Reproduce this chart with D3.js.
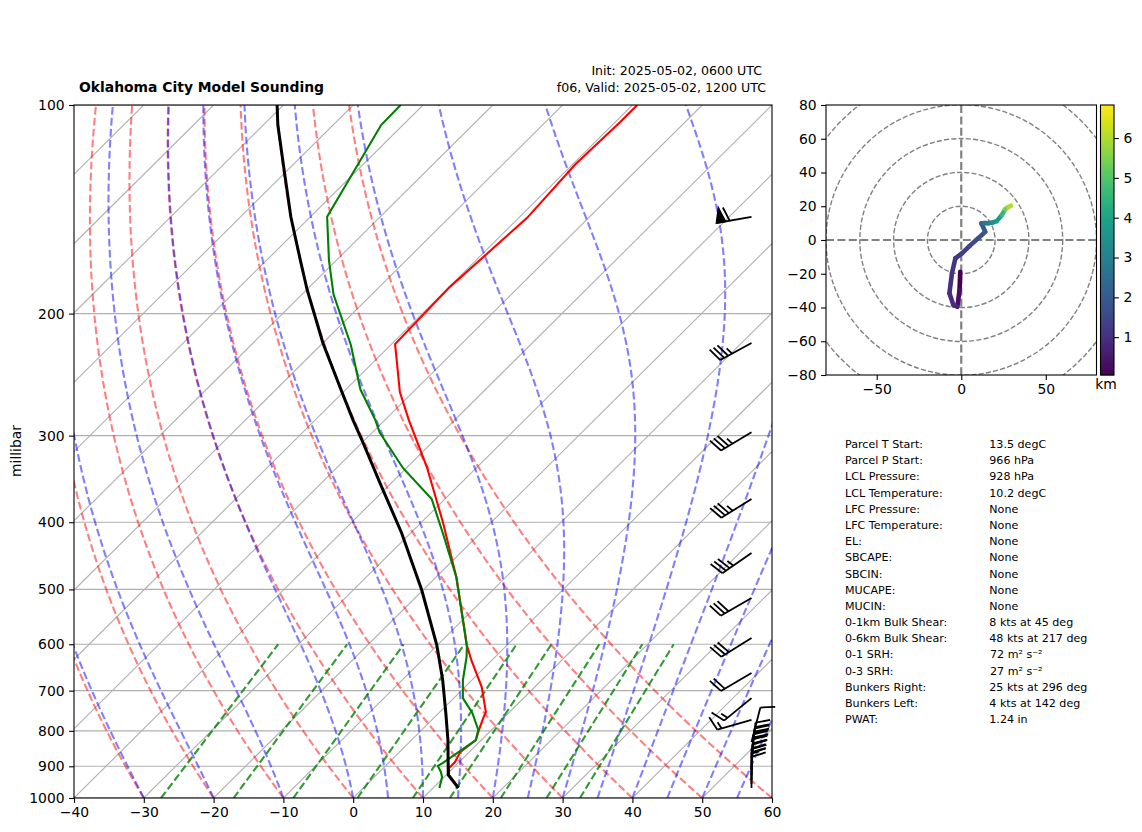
<!DOCTYPE html>
<html>
<head>
<meta charset="utf-8">
<script src="https://d3js.org/d3.v7.min.js"></script>
<style>
html,body{margin:0;padding:0;background:#fff;}
svg{display:block;}
text{font-family:"DejaVu Sans",sans-serif;fill:#000;}
</style>
</head>
<body>
<svg id="c" width="1142" height="832"></svg>
<script>
// ---- Sounding data ----
const tempP = [966,926.4,905,887.5,858.5,824.7,797.6,766.9,751.5,691.6,632.2,601.5,480,401,333,284.7,259.5,221.3,183,145.5,122,105.8,100];
const tempC = [13.6,10.4,9.4,9.4,8.7,9.2,8.2,7.1,6.6,2.4,-3.0,-5.8,-17.1,-26.8,-37.2,-46.6,-51.9,-59.5,-59.9,-58.8,-59.6,-59.3,-59.3];
const dewP = [967,932.6,917,899,890,824.7,797.6,753.9,717.6,675.8,626,605.5,578,480,414.6,370.3,334,296.6,284.7,257.4,222,187.6,167.4,145,106.9,100];
const dewC = [10.9,9.7,8.8,7.5,7.8,9.2,8.1,4.8,1.3,-1.3,-4.1,-5.5,-7.8,-17.1,-25.4,-31.9,-40.5,-49.0,-51.4,-57.9,-65.7,-75.5,-81.1,-87.6,-93.1,-93.2];
const parcelP = [967,926.4,824.7,753.9,675.8,601.5,501,414.6,351.2,307.4,284.7,260.4,220.5,184.9,167.4,145,125.4,106.9,100];
const parcelC = [13.6,10.3,5.2,1.0,-4.2,-10.1,-20.2,-31.3,-41.6,-49.8,-54.6,-60.0,-70.0,-79.9,-85.2,-92.8,-100.0,-107.9,-110.9];

// Wind barbs: pressure, u and v in knots
const barbP = [145,220.5,296.6,370.3,443,514.4,587.7,660,717.6,771.6,830,875.5,893,911,926,942,954.6,967];
const barbU = [59,30.7,30,29.7,28.8,26,25.4,17.2,11.6,14.4,-2.5,-3.4,-2.5,-1.5,-1,-0.5,0,0];
const barbV = [10.4,16.8,18,18.5,19.9,15,15.9,10.1,9.5,4.1,-9.7,-29.8,-30,-30,-25,-25,-20,-20];

// Hodograph: u, v, height (km)
const hodoU = [-0.6,-1,-2.3,-4.6,-7,-5.5,-3.5,0.4,5,10,14.2,11.9,14,16,18.5,21,24,26,28,29.4];
const hodoV = [-18.8,-29.6,-39.5,-38.6,-31.6,-19.7,-10.9,-7.9,-3.5,1,4.9,9.9,10,9.9,10.4,11.2,14.8,18.3,19.6,20.3];
const hodoZ = [0.05,0.3,0.7,0.9,1.0,1.1,1.2,1.3,1.5,1.7,2.0,2.3,2.7,3.0,3.4,3.8,4.6,5.4,6.0,6.6];
const hodoRings = [20,40,60,80,100];

// Background isopleths, degC at 1000 hPa / mixing ratio
const isotherms = d3.range(-140,61,10);
const dryT0 = [-40,-30,-20,-10,0,10,20,30,40,50,60];
const moistT0 = [-40,-30,-20,-10,0,5,10,15,20,25,30,35,40,45,50,55,60];
const mixW = [0.0004,0.001,0.002,0.004,0.007,0.01,0.016,0.024,0.032];

// Ticks
const pressureTicks = [100,200,300,400,500,600,700,800,900,1000];
const tempTicks = [-40,-30,-20,-10,0,10,20,30,40,50,60];
const hodoXTicks = [-50,0,50];
const hodoYTicks = [-80,-60,-40,-20,0,20,40,60,80];
const cbarTicks = [1,2,3,4,5,6];

// Text
const chartTitle = "Oklahoma City Model Sounding";
const initText = "Init: 2025-05-02, 0600 UTC";
const validText = "f06, Valid: 2025-05-02, 1200 UTC";
const tableLabels = ["Parcel T Start:","Parcel P Start:","LCL Pressure:","LCL Temperature:","LFC Pressure:","LFC Temperature:","EL:","SBCAPE:","SBCIN:","MUCAPE:","MUCIN:","0-1km Bulk Shear:","0-6km Bulk Shear:","0-1 SRH:","0-3 SRH:","Bunkers Right:","Bunkers Left:","PWAT:"];
const tableValues = ["13.5 degC","966 hPa","928 hPa","10.2 degC","None","None","None","None","None","None","None","8 kts at 45 deg","48 kts at 217 deg","72 m² s⁻²","27 m² s⁻²","25 kts at 296 deg","4 kts at 142 deg","1.24 in"];

// ---- Layout ----
const svg = d3.select("#c");
const L=74,R=772,T=105,B=798;
const x = d3.scaleLinear().domain([-40,60]).range([L,R]);
const y = d3.scaleLog().domain([1000,100]).range([B,T]);
const skew = p => 100*Math.log10(1000/p);
const px = (t,p) => x(t+skew(p));
const line = d3.line().x(d=>px(d[1],d[0])).y(d=>y(d[0]));
const presGrid = d3.range(0,61).map(i=>1000*Math.pow(10,-i/60));

svg.append("defs").append("clipPath").attr("id","skewClip").append("rect").attr("x",L).attr("y",T).attr("width",R-L).attr("height",B-T);
const g = svg.append("g").attr("clip-path","url(#skewClip)");

// grid
g.selectAll("line.h").data(pressureTicks).join("line").attr("x1",L).attr("x2",R).attr("y1",d=>y(d)).attr("y2",d=>y(d)).attr("stroke","#b0b0b0").attr("stroke-width",1.1);
g.selectAll("line.iso").data(isotherms).join("line").attr("class","iso")
  .attr("x1",d=>px(d,1000)).attr("y1",B).attr("x2",d=>px(d,100)).attr("y2",T)
  .attr("stroke","#b0b0b0").attr("stroke-width",1.1);

// dry adiabats
const dry = t0 => presGrid.map(p=>[p,(t0+273.15)*Math.pow(p/1000,0.2857)-273.15]);
g.selectAll("path.dry").data(dryT0).join("path").attr("class","dry").attr("d",d=>line(dry(d)))
  .attr("fill","none").attr("stroke","#ff0000").attr("stroke-opacity",0.5).attr("stroke-width",2.1).attr("stroke-dasharray","7.7,3.3");

// moist adiabats
function moist(t0){
  const es=t=>6.112*Math.exp(17.67*t/(t+243.5));
  const f=(p,Tk)=>{const tc=Tk-273.15,e=es(tc),rs=0.622*e/Math.max(p-e,1),Lv=2.501e6,Rd=287.05,cp=1005;
    return (1/p)*(Rd*Tk+Lv*rs)/(cp+Lv*Lv*rs*0.622/(Rd*Tk*Tk));};
  const out=[[1000,t0]];let Tk=t0+273.15,p=1000;
  for(let i=0;i<180;i++){const p2=1000*Math.pow(10,-(i+1)/180),h=p2-p;
    const k1=f(p,Tk),k2=f(p+h/2,Tk+h*k1/2),k3=f(p+h/2,Tk+h*k2/2),k4=f(p2,Tk+h*k3);
    Tk+=h*(k1+2*k2+2*k3+k4)/6;p=p2;out.push([p,Tk-273.15]);}
  return out;
}
g.selectAll("path.moist").data(moistT0).join("path").attr("class","moist").attr("d",d=>line(moist(d)))
  .attr("fill","none").attr("stroke","#0000ff").attr("stroke-opacity",0.5).attr("stroke-width",2.1).attr("stroke-dasharray","7.7,3.3");

// mixing lines
const mix = w => [1000,600].map(p=>{const e=p*w/(0.622+w),l=Math.log(e/6.112);return [p,243.5*l/(17.67-l)];});
g.selectAll("path.mix").data(mixW).join("path").attr("class","mix").attr("d",d=>line(mix(d)))
  .attr("fill","none").attr("stroke","#008000").attr("stroke-opacity",0.8).attr("stroke-width",2.1).attr("stroke-dasharray","7.7,3.3");

// profiles
const zip=(a,b)=>a.map((v,i)=>[v,b[i]]);
g.append("path").attr("d",line(zip(tempP,tempC))).attr("fill","none").attr("stroke","#ff0000").attr("stroke-width",2.1);
g.append("path").attr("d",line(zip(dewP,dewC))).attr("fill","none").attr("stroke","#008000").attr("stroke-width",2.1);
g.append("path").attr("d",line(zip(parcelP,parcelC))).attr("fill","none").attr("stroke","#000").attr("stroke-width",3);

// barbs
const barbX=751.5, BL=35.5, bH=0.4*BL, bW=0.25*BL, bS=0.125*BL;
const barbG=svg.append("g").attr("stroke","#000").attr("stroke-width",1.8).attr("fill","#000").attr("stroke-linejoin","miter");
barbP.forEach((p,i)=>{
  const u=barbU[i],v=barbV[i],sp=Math.hypot(u,v),dx=-u/sp,dy=v/sp;
  const nx=-dy,ny=dx;                        // feather side
  const pt=(t,h)=>[barbX+dx*t+nx*h,y(p)+dy*t+ny*h];
  let s=Math.round(sp/5)*5,t=BL,segs=[pt(0,0),pt(BL,0)];
  barbG.append("path").attr("fill","none").attr("d",d3.line()(segs));
  const nf=Math.floor(s/50);s-=nf*50;
  const nb=Math.floor(s/10);s-=nb*10;
  for(let k=0;k<nf;k++){barbG.append("path").attr("d",d3.line()([pt(t,0),pt(t-bW/2,bH),pt(t-bW,0)])+"Z");t-=bW+bS;}
  for(let k=0;k<nb;k++){barbG.append("path").attr("fill","none").attr("d",d3.line()([pt(t,0),pt(t+bW/2,bH)]));t-=bS;}
  if(s>=5){if(nf+nb===0)t-=1.5*bS;barbG.append("path").attr("fill","none").attr("d",d3.line()([pt(t,0),pt(t+bW/4,bH/2)]));}
});

// axes of the skew-T
const tickStyle=a=>{a.select(".domain").remove();a.selectAll("line").attr("stroke","#000").attr("stroke-width",1.1);a.selectAll("text").style("font-size","13.9px");};
svg.append("g").attr("transform",`translate(0,${B})`).call(d3.axisBottom(x).tickValues(tempTicks).tickSize(4.9).tickPadding(4.5).tickFormat(d3.format("d"))).call(tickStyle).attr("font-family",null);
svg.append("g").attr("transform",`translate(${L},0)`).call(d3.axisLeft(y).tickValues(pressureTicks).tickSize(4.9).tickPadding(4.5).tickFormat(d3.format("d"))).call(tickStyle);
svg.append("rect").attr("x",L).attr("y",T).attr("width",R-L).attr("height",B-T).attr("fill","none").attr("stroke","#000").attr("stroke-width",1.1);
svg.append("text").attr("transform","translate(21,451) rotate(-90)").attr("text-anchor","middle").style("font-size","13.9px").text("millibar");

svg.append("text").attr("x",79).attr("y",92).style("font-size","13.9px").style("font-weight","bold").text(chartTitle);
svg.append("text").attr("x",762).attr("y",75).attr("text-anchor","end").style("font-size","12.6px").text(initText);
svg.append("text").attr("x",766).attr("y",92).attr("text-anchor","end").style("font-size","12.6px").text(validText);

// ---- Hodograph ----
const hL=826,hR=1096.5,hT=105,hB=375;
const hx=d3.scaleLinear().domain([-80,80]).range([hL,hR]);
const hy=d3.scaleLinear().domain([-80,80]).range([hB,hT]);
const hs=(hR-hL)/160;
svg.select("defs").append("clipPath").attr("id","hodoClip").append("rect").attr("x",hL).attr("y",hT).attr("width",hR-hL).attr("height",hB-hT);
const hg=svg.append("g").attr("clip-path","url(#hodoClip)");
hg.selectAll("circle").data(hodoRings).join("circle").attr("cx",hx(0)).attr("cy",hy(0)).attr("r",d=>d*hs)
  .attr("fill","none").attr("stroke","#808080").attr("stroke-width",1.4).attr("stroke-dasharray","5.1,2.2");
hg.append("line").attr("x1",hL).attr("x2",hR).attr("y1",hy(0)).attr("y2",hy(0)).attr("stroke","#808080").attr("stroke-width",2.2).attr("stroke-dasharray","8,3.4");
hg.append("line").attr("x1",hx(0)).attr("x2",hx(0)).attr("y1",hT).attr("y2",hB).attr("stroke","#808080").attr("stroke-width",2.2).attr("stroke-dasharray","8,3.4");
const zMin=0.05,zMax=6.83;
const zc=d3.scaleSequential(d3.interpolateViridis).domain([zMin,zMax]);
hodoU.slice(1).forEach((_,i)=>{
  hg.append("line").attr("x1",hx(hodoU[i])).attr("y1",hy(hodoV[i])).attr("x2",hx(hodoU[i+1])).attr("y2",hy(hodoV[i+1]))
    .attr("stroke",zc(hodoZ[i])).attr("stroke-width",4.6).attr("stroke-linecap","round");
});
svg.append("g").attr("transform",`translate(0,${hB})`).call(d3.axisBottom(hx).tickValues(hodoXTicks).tickSize(4.9).tickPadding(4.5).tickFormat(d3.format("d"))).call(tickStyle);
svg.append("g").attr("transform",`translate(${hL},0)`).call(d3.axisLeft(hy).tickValues(hodoYTicks).tickSize(4.9).tickPadding(4.5).tickFormat(d3.format("d"))).call(tickStyle);
svg.append("rect").attr("x",hL).attr("y",hT).attr("width",hR-hL).attr("height",hB-hT).attr("fill","none").attr("stroke","#000").attr("stroke-width",1.1);

// ---- Colorbar ----
const cL=1100.5,cR=1114;
const cy=d3.scaleLinear().domain([zMin,zMax]).range([hB,hT]);
svg.append("g").selectAll("rect").data(d3.range(0,270)).join("rect")
  .attr("x",cL).attr("width",cR-cL).attr("y",d=>hB-d-1).attr("height",1.4)
  .attr("fill",d=>zc(cy.invert(hB-d-0.5)));
svg.append("rect").attr("x",cL).attr("y",hT).attr("width",cR-cL).attr("height",hB-hT).attr("fill","none").attr("stroke","#000").attr("stroke-width",1.1);
svg.append("g").attr("transform",`translate(${cR},0)`).call(d3.axisRight(cy).tickValues(cbarTicks).tickSize(4.9).tickPadding(4.5).tickFormat(d3.format("d"))).call(tickStyle);
svg.append("text").attr("x",1106).attr("y",389).attr("text-anchor","middle").style("font-size","13.9px").text("km");

// ---- Table ----
const rowY=i=>444+i*16.19;
svg.append("g").selectAll("text").data(tableLabels).join("text").attr("x",845).attr("y",(d,i)=>rowY(i)).attr("dy","0.36em").style("font-size","11.1px").text(d=>d);
svg.append("g").selectAll("text").data(tableValues).join("text").attr("x",(d,i)=>(i==13||i==14)?990:989.3).attr("y",(d,i)=>rowY(i)).attr("dy","0.36em").style("font-size","11.1px").text(d=>d);
</script>
</body>
</html>
